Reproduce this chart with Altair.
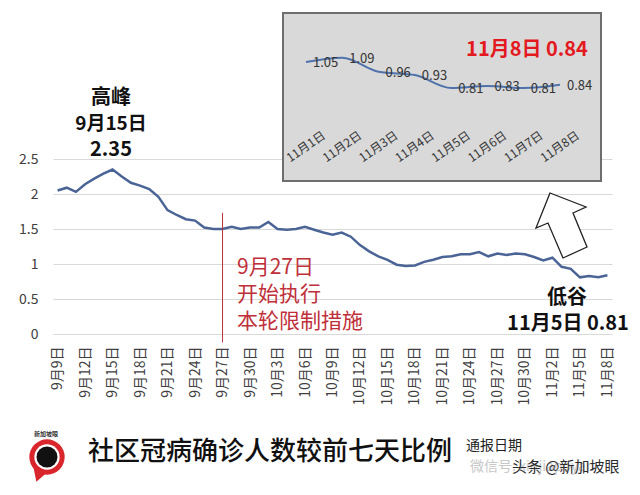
import altair as alt
import pandas as pd

# ---------------- data ----------------
dates = ([f"9月{d}日" for d in range(9, 31)]
         + [f"10月{d}日" for d in range(1, 32)]
         + [f"11月{d}日" for d in range(1, 9)])

ratios = [2.05, 2.09, 2.03, 2.14, 2.22, 2.29, 2.35, 2.25, 2.16, 2.12,
          2.07, 1.96, 1.77, 1.70, 1.64, 1.62, 1.52, 1.50, 1.50, 1.53,
          1.50, 1.52, 1.52, 1.60, 1.50, 1.49, 1.50, 1.53, 1.49, 1.45,
          1.42, 1.45, 1.39, 1.27, 1.18, 1.11, 1.06, 0.99, 0.97, 0.98,
          1.03, 1.06, 1.10, 1.11, 1.14, 1.14, 1.17, 1.11, 1.15, 1.13,
          1.15, 1.14, 1.10, 1.05, 1.09, 0.96, 0.93, 0.81, 0.83, 0.81,
          0.84]

tick_labels = dates[::3]
y_ticks = [0, 0.5, 1, 1.5, 2, 2.5]

inset_dates = ["11月1日", "11月2日", "11月3日", "11月4日",
               "11月5日", "11月6日", "11月7日", "11月8日"]
inset_values = [1.05, 1.09, 0.96, 0.93, 0.81, 0.83, 0.81, 0.84]

policy_date = ["9月27日"]

FONT = "Noto Sans CJK SC"
OX, OY = 53, 159          # plot-area origin on the page
W, H = 559, 175

main_df = pd.DataFrame({"date": dates, "ratio": ratios})
inset_df = pd.DataFrame({"date": inset_dates, "value": inset_values,
                         "label": [f"{v:.2f}" for v in inset_values]})


def txt(text, x, y, size, color="#111111", weight="normal", align="center",
        opacity=1.0):
    return alt.Chart(pd.DataFrame({"t": [text]})).mark_text(
        font=FONT, fontSize=size, fontWeight=weight, color=color,
        align=align, baseline="middle", opacity=opacity
    ).encode(x=alt.value(x - OX), y=alt.value(y - OY), text="t:N")


# ---------------- main chart ----------------
x_scale = alt.Scale(type="point", padding=0.5)
x_axis = alt.Axis(values=tick_labels, labelAngle=270, title=None,
                  labelFontSize=14, labelColor="#404040",
                  labelPadding=12, labelOverlap=False,
                  grid=False, ticks=False, domain=False, labelFont=FONT)
y_scale = alt.Scale(domain=[0, 2.5])
y_axis = alt.Axis(values=y_ticks, format="~g", title=None,
                  labelFontSize=14, labelColor="#404040", labelOverlap=False,
                  labelPadding=15, grid=True, gridColor="#d9d9d9",
                  ticks=False, domain=False, labelFont=FONT)

line = alt.Chart(main_df).mark_line(color="#4b6496", strokeWidth=2.5).encode(
    x=alt.X("date:O", sort=dates, scale=x_scale, axis=x_axis),
    y=alt.Y("ratio:Q", scale=y_scale, axis=y_axis))

rule_df = pd.DataFrame({"date": policy_date, "ratio": [1.73], "low": [-0.12]})
rule = alt.Chart(rule_df).mark_rule(color="#b8323a", strokeWidth=1).encode(
    x=alt.X("date:O", sort=dates, scale=x_scale, axis=x_axis),
    y=alt.Y("ratio:Q", scale=y_scale, axis=y_axis), y2="low:Q")

arrow_path = ("M -0.354 -1 L -0.785 0.077 L -0.415 -0.077 L 0.046 1 "
              "L 0.785 0.662 L 0.354 -0.385 L 0.754 -0.569 Z")
arrow = alt.Chart(pd.DataFrame({"a": [0]})).mark_point(
    shape=arrow_path, filled=True, fill="white", stroke="#222222",
    strokeWidth=1.3, opacity=1
).encode(x=alt.value(561.5 - OX), y=alt.value(225.5 - OY),
         size=alt.value(4225))


# logo
def dot(shape, x, y, size, fill):
    return alt.Chart(pd.DataFrame({"a": [0]})).mark_point(
        shape=shape, filled=True, fill=fill, opacity=1
    ).encode(x=alt.value(x - OX), y=alt.value(y - OY), size=alt.value(size))


logo = [
    dot("M -1 -1 L 1 -0.4 L -0.6 1 Z", 41, 474, 240, "#d8262c"),
    dot("circle", 47, 457, 1250, "#d8262c"),
    dot("circle", 47, 457, 640, "white"),
    dot("circle", 47, 457, 440, "#111111"),
]

main_texts = [
    txt("高峰", 111, 98, 20, weight="bold"),
    txt("9月15日", 111, 124, 19, weight="bold"),
    txt("2.35", 111, 150, 20, weight="bold"),
    txt("9月27日", 237, 268, 21, color="#c0303a", align="left"),
    txt("开始执行", 237, 295, 21, color="#c0303a", align="left"),
    txt("本轮限制措施", 237, 322, 21, color="#c0303a", align="left"),
    txt("低谷", 567, 298, 20, weight="bold"),
    txt("11月5日 0.81", 568, 324, 20, weight="bold"),
    txt("社区冠病确诊人数较前七天比例", 88, 452, 26, weight=500, align="left"),
    txt("通报日期", 466, 446, 14, color="#222222", align="left"),
    txt("微信号: xinjiapoyan", 470, 467, 14, color="#bbbbbb", align="left",
        opacity=0.8),
    txt("头条 @新加坡眼", 512, 467, 15, color="#2b2b2b", align="left"),
    txt("新加坡眼", 46, 434, 6, color="#333333", weight="bold"),
]

main_group = alt.layer(line, rule, arrow, *logo, *main_texts)

# ---------------- inset ----------------
box = alt.Chart(pd.DataFrame({"a": [0]})).mark_rect(
    fill="#d9d9d9", stroke="#6e6e6e", strokeWidth=2
).encode(x=alt.value(283 - OX), x2=alt.value(601 - OX),
         y=alt.value(13 - OY), y2=alt.value(181 - OY))

x_in = alt.X("date:O", sort=inset_dates,
             scale=alt.Scale(type="point", padding=0,
                             range=[306 - OX, 560 - OX]),
             axis=None)
y_in = alt.Y("value:Q", scale=alt.Scale(domain=[0.5, 1.35], zero=False,
                                        range=[121.6 - OY, 29.6 - OY]),
             axis=None)

in_line = alt.Chart(inset_df).mark_line(
    color="#4f72aa", strokeWidth=2, interpolate="monotone"
).encode(x=x_in, y=y_in)

in_labels = alt.Chart(inset_df).mark_text(
    font=FONT, fontSize=13, color="#333333", align="left", baseline="middle",
    dx=7, dy=1
).encode(x=x_in, y=y_in, text="label:N")

in_axis = alt.Chart(inset_df).mark_text(
    font=FONT, fontSize=12, color="#333333", align="right",
    baseline="middle", angle=325, dx=14.7, dy=10.3
).encode(x=x_in, y=alt.value(134 - OY), text="date:N")

in_title = txt("11月8日 0.84", 527, 50, 20, color="#e3191f", weight="bold")

inset_group = alt.layer(box, in_line, in_labels, in_axis, in_title)

chart = alt.layer(main_group, inset_group).resolve_scale(
    x="independent", y="independent"
).properties(
    width=W, height=H,
    padding={"left": OX, "top": OY, "right": 640 - OX - W,
             "bottom": 495 - OY - H},
    autosize=alt.AutoSizeParams(type="none"),
    background="white",
).configure_view(stroke=None)

chart.save("out.html", embed_options={"renderer": "svg", "actions": False})
